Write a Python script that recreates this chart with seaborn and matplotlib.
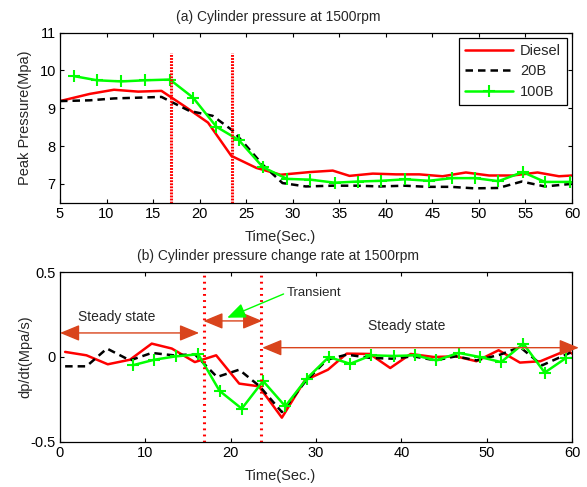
import numpy as np
import pandas as pd
import matplotlib
matplotlib.use("Agg")
import matplotlib.pyplot as plt
import seaborn as sns

# ---------------- data ----------------
t_diesel_a = [5.0, 8.2, 10.8, 13.4, 15.9, 18.4, 20.9, 23.4, 26.1, 28.7, 31.8, 34.3,
              36.1, 38.6, 41.1, 43.6, 46.1, 48.6, 51.1, 53.6, 56.3, 58.6, 60.0]
p_diesel = [9.19, 9.38, 9.49, 9.44, 9.46, 9.05, 8.62, 7.74, 7.42, 7.24, 7.31, 7.35,
            7.21, 7.27, 7.25, 7.25, 7.20, 7.30, 7.22, 7.22, 7.30, 7.20, 7.22]

t_20b_a = [5.0, 8.2, 10.8, 13.4, 15.9, 18.9, 21.4, 23.6, 26.8, 28.9, 31.4, 34.3,
           36.9, 39.4, 42.0, 44.5, 47.0, 49.5, 52.1, 54.6, 57.1, 60.0]
p_20b = [9.19, 9.21, 9.26, 9.28, 9.30, 8.93, 8.80, 8.40, 7.50, 7.02, 6.93, 6.95,
         6.95, 6.93, 6.95, 6.92, 6.92, 6.88, 6.89, 7.06, 6.93, 7.00]

t_100b_a = [6.5, 9.0, 11.6, 14.1, 16.8, 19.3, 21.8, 24.2, 26.8, 29.4, 31.9, 34.5,
            37.0, 39.5, 42.1, 44.6, 47.1, 49.6, 52.1, 54.7, 57.1, 59.8]
p_100b = [9.85, 9.74, 9.71, 9.74, 9.76, 9.28, 8.51, 8.16, 7.44, 7.13, 7.11, 7.03,
          7.06, 7.08, 7.12, 7.08, 7.15, 7.15, 7.07, 7.31, 7.05, 7.05]

t_diesel_b = [0.6, 3.1, 5.6, 8.2, 10.75, 13.1, 15.8, 18.3, 21.0, 23.3, 26.0, 28.7,
              31.4, 33.6, 36.3, 38.7, 41.1, 43.8, 46.4, 48.8, 51.4, 53.9, 56.3, 59.4, 60.0]
r_diesel = [0.03, 0.01, -0.043, -0.016, 0.079, 0.05, -0.03, 0.01, -0.157, -0.173,
            -0.358, -0.138, -0.075, 0.02, 0.018, -0.065, 0.018, 0.0, 0.004, -0.025,
            0.04, -0.033, -0.025, 0.04, 0.02]

t_20b_b = [0.6, 3.1, 5.5, 8.2, 10.75, 13.3, 15.8, 18.4, 21.0, 23.4, 26.0, 28.7,
           31.3, 33.6, 36.3, 38.9, 41.4, 44.0, 46.4, 48.8, 51.6, 53.9, 56.5, 60.0]
r_20b = [-0.055, -0.055, 0.05, -0.02, 0.024, 0.01, 0.016, -0.118, -0.075, -0.173,
         -0.325, -0.148, -0.016, 0.014, -0.005, -0.01, 0.004, -0.02, 0.004, -0.02,
         0.014, 0.059, -0.049, 0.03]

t_100b_b = [8.5, 11.05, 13.6, 16.2, 18.7, 21.3, 23.8, 26.4, 28.9, 31.5, 34.0, 36.5,
            39.1, 41.6, 44.1, 46.7, 49.2, 51.7, 54.3, 56.8, 59.3]
r_100b = [-0.049, -0.016, 0.004, 0.016, -0.2, -0.305, -0.142, -0.291, -0.128, 0.0,
          -0.04, 0.01, 0.006, 0.01, -0.02, 0.024, 0.0, -0.03, 0.079, -0.092, -0.006]

transition_times = [16.9, 23.5]

series_names = ["Diesel", "20B", "100B"]
title_a = "(a) Cylinder pressure at 1500rpm"
title_b = "(b) Cylinder pressure change rate at 1500rpm"
xlabel = "Time(Sec.)"
ylabel_a = "Peak Pressure(Mpa)"
ylabel_b = "dp/dt(Mpa/s)"

# ---------------- style ----------------
sns.set_style("ticks")
plt.rcParams["font.family"] = ["Liberation Sans", "DejaVu Sans"]
plt.rcParams["font.size"] = 9.5

RED = "#ff0000"
GREEN = "#00ff00"
BLACK = "#000000"
ORANGE = "#d9441c"

fig = plt.figure(figsize=(5.87, 4.87), dpi=100)
W, H = 587.0, 487.0
ax1 = fig.add_axes([60 / W, 1 - 202.7 / H, 512 / W, 170 / H])
ax2 = fig.add_axes([60 / W, 1 - 441.7 / H, 512 / W, 169.4 / H])

def draw(ax, t, v, color, ls, marker, label):
    df = pd.DataFrame({"t": t, "v": v})
    sns.lineplot(data=df, x="t", y="v", ax=ax, color=color, linestyle=ls,
                 marker=marker, markersize=9 if marker else 0,
                 markeredgewidth=1.5, markeredgecolor=color,
                 lw=1.8, errorbar=None, label=label, legend=False, sort=False)

# top panel
draw(ax1, t_diesel_a, p_diesel, RED, "-", None, series_names[0])
draw(ax1, t_20b_a, p_20b, BLACK, (0, (3, 2)), None, series_names[1])
draw(ax1, t_100b_a, p_100b, GREEN, "-", "+", series_names[2])
for tt in transition_times:
    ax1.plot([tt, tt], [6.5, 10.45], color=RED, lw=2.2, ls=(0, (0.6, 0.4)))
ax1.set_xlim(5, 60)
ax1.set_ylim(6.5, 11)
ax1.set_xticks(range(5, 61, 5))
ax1.set_yticks([7, 8, 9, 10, 11])

leg = ax1.legend(loc="upper right", frameon=True, fancybox=False,
                 edgecolor="black", framealpha=1, handlelength=3.3,
                 borderaxespad=0.35, borderpad=0.4, labelspacing=0.45,
                 fontsize=10.5, handletextpad=0.5)
leg.get_frame().set_linewidth(0.9)

# bottom panel
draw(ax2, t_diesel_b, r_diesel, RED, "-", None, None)
draw(ax2, t_20b_b, r_20b, BLACK, (0, (3, 2)), None, None)
draw(ax2, t_100b_b, r_100b, GREEN, "-", "+", None)
for tt in transition_times:
    ax2.axvline(tt, color=RED, lw=2.2, ls=(0, (0.6, 1.4)))
ax2.set_xlim(0, 60)
ax2.set_ylim(-0.5, 0.5)
ax2.set_xticks(range(0, 61, 10))
ax2.set_yticks([-0.5, 0, 0.5])
ax2.set_yticklabels(["-0.5", "0", "0.5"])

arrow_kw = dict(arrowstyle="<|-|>,head_length=0.8,head_width=0.33", color=ORANGE,
                lw=1.0, mutation_scale=15, shrinkA=0, shrinkB=0)
ax2.annotate("", xy=(0.0, 0.142), xytext=(16.3, 0.142), arrowprops=arrow_kw,
             annotation_clip=False)
ax2.annotate("", xy=(16.8, 0.213), xytext=(23.7, 0.213), arrowprops=arrow_kw,
             annotation_clip=False)
ax2.annotate("", xy=(23.7, 0.055), xytext=(60.8, 0.055), arrowprops=arrow_kw,
             annotation_clip=False)
ax2.text(6.7, 0.236, "Steady state", ha="center", va="center", fontsize=10)
ax2.text(40.6, 0.183, "Steady state", ha="center", va="center", fontsize=10)
ax2.text(26.6, 0.378, "Transient", ha="left", va="center", fontsize=9.5)
ax2.annotate("", xy=(19.6, 0.232), xytext=(26.2, 0.372),
             arrowprops=dict(arrowstyle="-|>,head_length=0.8,head_width=0.33",
                             color=GREEN, lw=1.0, mutation_scale=14,
                             shrinkA=0, shrinkB=0))

# common formatting
for ax, ttl, yl in [(ax1, title_a, ylabel_a), (ax2, title_b, ylabel_b)]:
    ax.tick_params(direction="in", top=True, right=True, length=3, width=0.8,
                   labelsize=10.5, pad=3, colors="black")
    for s in ax.spines.values():
        s.set_visible(True)
        s.set_color("black")
        s.set_linewidth(0.9)
    ax.set_facecolor("white")
    ax.text(0.426, 1 + 16 / 170, ttl, transform=ax.transAxes, ha="center",
            va="center", fontsize=10)
    ax.set_xlabel(xlabel, fontsize=10.5)
    ax.set_ylabel(yl, fontsize=10.5)
    ax.xaxis.label.set_verticalalignment("center")
    ax.yaxis.label.set_verticalalignment("center")
    ax.xaxis.set_label_coords(0.43, -34 / 170)
    ax.yaxis.set_label_coords(-35 / 512, 0.5)

fig.savefig("out.png", dpi=100, facecolor="white")
